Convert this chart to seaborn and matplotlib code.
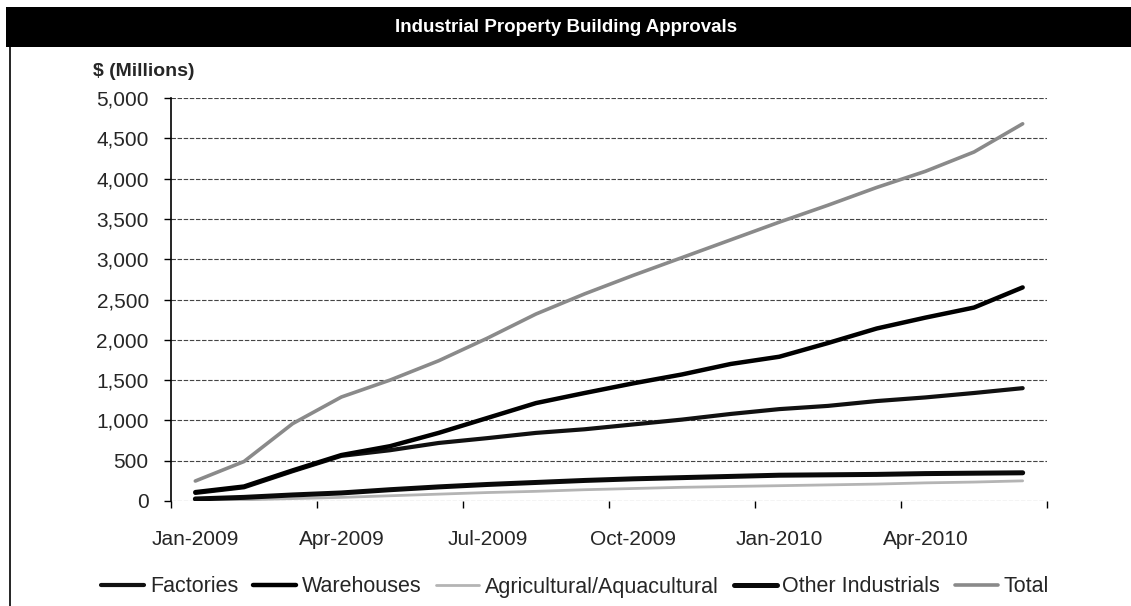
import matplotlib
matplotlib.use("Agg")
import matplotlib.pyplot as plt
from matplotlib.patches import Rectangle
from matplotlib.lines import Line2D
import numpy as np
import pandas as pd
import seaborn as sns

# Monthly cumulative approvals, $ millions
months = ["Jan-2009", "Feb-2009", "Mar-2009", "Apr-2009", "May-2009", "Jun-2009",
          "Jul-2009", "Aug-2009", "Sep-2009", "Oct-2009", "Nov-2009", "Dec-2009",
          "Jan-2010", "Feb-2010", "Mar-2010", "Apr-2010", "May-2010", "Jun-2010"]
factories = [100, 170, 370, 560, 630, 720, 780, 845, 890, 950, 1010, 1080,
             1140, 1180, 1240, 1285, 1340, 1400]
warehouses = [110, 180, 380, 570, 680, 845, 1030, 1215, 1340, 1460, 1570, 1700,
              1790, 1960, 2140, 2275, 2400, 2650]
agricultural = [5, 15, 30, 45, 65, 85, 105, 120, 140, 155, 170, 180,
                190, 200, 210, 225, 235, 250]
other_industrials = [25, 45, 75, 100, 140, 175, 205, 230, 255, 275, 290, 305,
                     320, 325, 330, 340, 345, 350]
total = [248, 490, 960, 1290, 1500, 1740, 2020, 2320, 2570, 2800, 3020, 3240,
         3460, 3670, 3890, 4090, 4330, 4680]

series_names = ["Factories", "Warehouses", "Agricultural/Aquacultural",
                "Other Industrials", "Total"]
series_values = [factories, warehouses, agricultural, other_industrials, total]
tick_labels = ["Jan-2009", "Apr-2009", "Jul-2009", "Oct-2009", "Jan-2010", "Apr-2010"]

styles = {
    "Factories": dict(color="#111111", lw=3.0),
    "Warehouses": dict(color="#000000", lw=3.2),
    "Agricultural/Aquacultural": dict(color="#b4b4b4", lw=2.0),
    "Other Industrials": dict(color="#0a0a0a", lw=3.6),
    "Total": dict(color="#8a8a8a", lw=2.6),
}

rows = []
for name, vals in zip(series_names, series_values):
    for i, v in enumerate(vals):
        rows.append({"series": name, "idx": i, "month": months[i], "value": v})
df = pd.DataFrame(rows)

sns.set_style("white")
plt.rcParams["font.family"] = ["Liberation Sans", "DejaVu Sans"]

W, H = 1131, 606
fig = plt.figure(figsize=(W / 100, H / 100), dpi=100)
ax = fig.add_axes([171 / W, 1 - 501 / H, (1047 - 171) / W, (501 - 98) / H])

for name in series_names:
    st = styles[name]
    sns.lineplot(data=df[df["series"] == name], x="idx", y="value", ax=ax,
                 color=st["color"], linewidth=st["lw"], legend=False)

ax.set_xlim(-0.5, len(months) - 0.5)
ax.set_ylim(0, 5000)
ax.set_xlabel("")
ax.set_ylabel("")

# y axis
yt = np.arange(0, 5001, 500)
ax.set_yticks(yt)
ax.set_yticklabels([f"{v:,.0f}" for v in yt], fontsize=15)
ax.tick_params(axis="y", direction="out", length=5, width=1, color="black", pad=11, left=True)
for v in yt:
    ax.axhline(v, color="#444444", lw=0.8, ls=(0, (4, 1.5)), zorder=0)

# x axis: labels at month centres, tick marks at quarter boundaries
label_pos = [months.index(t) for t in tick_labels]
ax.set_xticks(label_pos)
ax.set_xticklabels(tick_labels, fontsize=15)
ax.tick_params(axis="x", which="major", length=0, pad=21)
ax.set_xticks(np.arange(-0.5, len(months), 3), minor=True)
ax.tick_params(axis="x", which="minor", direction="out", length=5, width=1,
               color="black", bottom=True)

for s in ["top", "right", "bottom"]:
    ax.spines[s].set_visible(False)
ax.spines["left"].set_color("black")
ax.spines["left"].set_linewidth(1.2)

# Title bar
fig.patches.append(Rectangle((6 / W, 1 - 47 / H), 1 - 6 / W, 40 / H,
                             transform=fig.transFigure, facecolor="black",
                             edgecolor="none", zorder=0))
fig.text(566 / W, 1 - 27 / H, "Industrial Property Building Approvals",
         color="white", fontsize=13.5, fontweight="bold",
         family=["Liberation Sans Narrow", "Liberation Sans", "DejaVu Sans"],
         ha="center", va="center")

# Left frame line
fig.add_artist(Line2D([10 / W, 10 / W], [0, 1 - 47 / H], transform=fig.transFigure,
                      color="black", lw=1.2))

fig.text(93 / W, 1 - 72 / H, "$ (Millions)", fontsize=14, fontweight="bold",
         ha="left", va="center")

handles = [Line2D([], [], color=styles[n]["color"], lw=styles[n]["lw"]) for n in series_names]
fig.legend(handles, series_names, loc="center", bbox_to_anchor=(575 / W, 1 - 587 / H),
           ncol=5, frameon=False, fontsize=15.5, handlelength=2.0, handletextpad=0.25,
           columnspacing=0.7, borderpad=0)

fig.savefig("out.png", dpi=100, facecolor="white")
